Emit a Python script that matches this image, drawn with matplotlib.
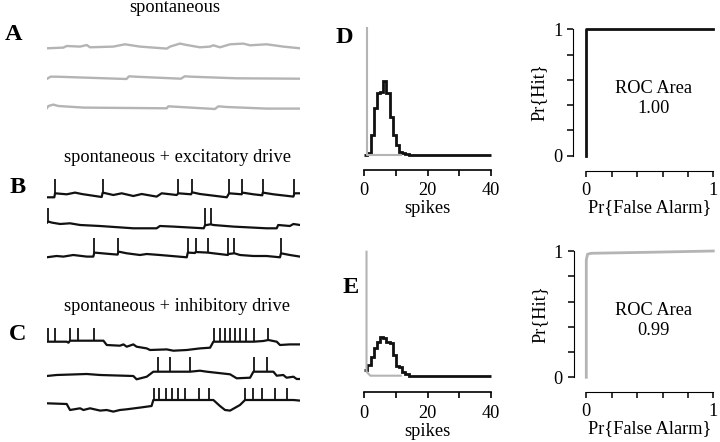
import numpy as np
import matplotlib.pyplot as plt

plt.rcParams['font.family'] = ['Liberation Serif', 'DejaVu Serif']
plt.rcParams['font.size'] = 13.2

W, H = 720, 442
INK = '#111111'
GRAY = '#b4b4b4'

# membrane traces: time (0-100) and voltage (px above resting level)
a1_t = [0, 6.6, 7.9, 13.2, 15.8, 17.1, 26.3, 30.9, 36.8, 47.4, 48.7, 52.6, 55.3, 60.5, 64.5, 65.8, 68.4, 72.4, 77.6, 80.3, 86.8, 93.4, 100]
a1_v = [0, 0.7, 2.3, 1.7, 3.3, 1, 1.7, 4, 1.7, -0.3, 1.7, 4.7, 3.3, 1, 1.7, 3, 1, 4, 4.7, 3, 4, 1.7, 0]
a2_t = [0, 1.5, 4, 31.5, 32.5, 35, 53, 54.5, 57, 75, 100]
a2_v = [0, 2.3, 2.3, 0, 2.7, 2.3, 0.3, 2.7, 2.3, 0.7, 0.3]
a3_t = [0, 0.7, 2.6, 4.6, 14.5, 47.4, 48, 50, 66.4, 67.8, 71, 86.8, 100]
a3_v = [0, 2.3, 3.7, 2.3, 0.7, 0, 2, 1.7, -0.7, 2, 1.3, -0.3, -0.3]

b1_t = [0, 3.0, 3.3, 7.9, 11.2, 13.8, 21.7, 22.1, 26.3, 29.6, 34.2, 37.5, 43.4, 45.4, 51.3, 52.0, 57.0, 57.4, 60.5, 71.1, 72.0, 77.0, 77.2, 81.6, 85.1, 85.3, 89.5, 97.4, 97.8, 100]
b1_v = [0, 0, 4, 3, 4.7, 3.3, 0.3, 4.7, 2.3, 4, 1.3, 3.3, 0.7, 4, 2.3, 4, 3, 5, 3.3, 0, 4, 3, 4.7, 3, 2, 4.7, 3, 0.7, 4, 4]
b1_spk = [3.3, 22.1, 52.0, 57.4, 72.0, 77.2, 85.3, 97.8]
b2_t = [0, 0.7, 2, 5.3, 9.2, 13.2, 21, 34.2, 43.4, 44.7, 50, 62, 62.5, 64.7, 65.8, 73.7, 86.8, 90.8, 91.4, 96, 97.4, 100]
b2_v = [5.3, 6.7, 5.7, 4.3, 5, 3.3, 2.3, 0, 0, 2.3, 1.7, 0, 3, 4, 3.3, 1.7, 0, 0, 3.3, 2.3, 4.3, 3.3]
b2_spk = [0.7, 62.5, 64.7]
b3_t = [0, 3.9, 6.6, 10.5, 15.8, 18.4, 18.8, 25, 28.0, 28.3, 31.6, 36.8, 39.5, 44.7, 55.3, 55.7, 58.5, 58.8, 63.6, 65.8, 71.5, 71.7, 74.1, 76.3, 81.6, 86.8, 92.1, 92.5, 96, 100]
b3_v = [0, 1.3, 0.7, 2.3, 0.7, 0.7, 4.7, 3.3, 2.7, 5.7, 4, 2.3, 3.3, 2.3, 0, 4.7, 4.3, 5.3, 4.7, 4, 2.3, 3.3, 4, 2.3, 1.3, 1.3, 0, 4, 2.3, 0.7]
b3_spk = [18.8, 28.3, 55.7, 58.8, 63.6, 71.7, 74.1, 92.5]

c1_t = [0, 7.9, 8.6, 9.2, 18.4, 22.4, 23.7, 28.9, 30.3, 31.6, 34.2, 35.5, 39.5, 40.8, 47.4, 50, 55.3, 60.5, 64.5, 65.8, 81.6, 85.5, 87.5, 90.8, 92.1, 96, 100]
c1_v = [0, 0, -1, 1, 1, 1, -3.3, -4, -2.7, -5, -2.7, -5, -6.7, -8.3, -7.7, -9, -8.3, -6.7, -6, 0, 0, 0.7, 1.7, 0, -3.3, -2.7, -2.7]
c1_spk = [0.7, 3.3, 9.2, 12.5, 18.8, 66.2, 68.4, 70.4, 72.4, 74.3, 76.3, 78.7, 82.0, 87.2]
c2_t = [0, 3.9, 15.8, 21.1, 34.2, 35.5, 39.5, 42.1, 56.6, 60.5, 63.2, 72.4, 75.0, 80.3, 81.6, 86.8, 89.5, 90.8, 93.4, 94.7, 97.4, 98.7, 100]
c2_v = [0, 1, 2, 1, 0, -3.3, -0.7, 4.3, 4.3, 5.3, 4.3, 1.7, -2.3, -1.7, 4.3, 4.3, 4.3, 0.3, 1, -1.7, -0.7, -3, -3]
c2_spk = [44.1, 48.7, 56.6, 81.8, 86.8]
c3_t = [0, 7.9, 9.2, 13.2, 14.5, 17.1, 21.1, 23.7, 26.3, 28.9, 31.6, 36.8, 41.4, 42.1, 65.8, 68.4, 70.4, 72.4, 76.3, 78.3, 97.4, 100]
c3_v = [0, -0.7, -6.7, -5, -6.7, -5, -7.3, -6.7, -8.3, -6.7, -6, -4.3, -2.7, 3.3, 3.3, -2.7, -6.7, -7.3, -1.7, 3.3, 3.3, 2.7]
c3_spk = [42.4, 44.3, 47.0, 49.6, 52.0, 54.6, 60.1, 64.1, 78.3, 81.6, 84.9, 90.1, 94.7]

# spike count histograms (bins of 1 spike), driven vs spontaneous
edges = [0, 1, 2, 3, 4, 5, 6, 7, 8, 9, 10, 11, 12, 13, 14, 40]
d_counts = [0, 0.013, 0.158, 0.368, 0.487, 0.5, 0.587, 0.487, 0.303, 0.158, 0.079, 0.026, 0.013, 0.008, 0]
e_counts = [0.046, 0.086, 0.153, 0.22, 0.274, 0.315, 0.301, 0.269, 0.263, 0.167, 0.081, 0.073, 0.032, 0.013, 0]
d_spont_x = [0.7, 0.7, 11.5]
d_spont_y = [1.0, 0, 0]
e_spont_x = [0.7, 0.7, 1.9, 11.5]
e_spont_y = [1.0, 0.032, 0, 0]

# ROC curves
d_fa = [0, 0, 1]
d_hit = [0, 1, 1]
e_fa = [0, 0, 0.01, 0.04, 0.5, 1]
e_hit = [0, 0.93, 0.975, 0.982, 0.99, 1.0]


def px_axes(fig, x0, y0, x1, y1):
    return fig.add_axes([x0 / W, 1 - y1 / H, (x1 - x0) / W, (y1 - y0) / H])


def out(px):
    return ('outward', px * 72 / 100)


fig = plt.figure(figsize=(7.2, 4.42), dpi=100)

# traces, y in figure pixels
axt = px_axes(fig, 46.7, 0, 300, H)
axt.set_xlim(0, 100)
axt.set_ylim(H, 0)
axt.axis('off')

gray_traces = [(a1_t, a1_v, 48.3), (a2_t, a2_v, 79), (a3_t, a3_v, 108.3)]
for t, v, base in gray_traces:
    axt.plot(t, base - np.array(v), color=GRAY, lw=1.7)

spk_traces = [
    (b1_t, b1_v, b1_spk, 197.3, 18), (b2_t, b2_v, b2_spk, 228.3, 20), (b3_t, b3_v, b3_spk, 257.3, 19.7),
    (c1_t, c1_v, c1_spk, 341.7, 13.3), (c2_t, c2_v, c2_spk, 376, 18.7), (c3_t, c3_v, c3_spk, 403.3, 15),
]
for t, v, spk, base, top in spk_traces:
    axt.plot(t, base - np.array(v), color=INK, lw=1.6)
    axt.vlines(spk, base - np.interp(spk, t, v) + 0.5, base - top, color=INK, lw=1.3)

fig.text(175 / W, 1 - 8 / H, 'spontaneous', ha='center', va='center')
fig.text(177 / W, 1 - 157 / H, 'spontaneous + excitatory drive', ha='center', va='center')
fig.text(177 / W, 1 - 306.7 / H, 'spontaneous + inhibitory drive', ha='center', va='center')

for lab, x, y in [('A', 14, 35), ('B', 17.5, 187.5), ('C', 18, 335), ('D', 344, 37.5), ('E', 351, 287.5)]:
    fig.text(x / W, 1 - y / H, lab, ha='center', va='center', fontsize=17.5, fontweight='bold')

# histograms
hist_panels = [
    ((28.3, 155), 14.5, d_counts, d_spont_x, d_spont_y),
    ((251.7, 375.7), 16.6, e_counts, e_spont_x, e_spont_y),
]
for (y0, y1), drop, counts, sx, sy in hist_panels:
    ax = px_axes(fig, 364.3, y0, 490.9, y1)
    ax.plot(sx, sy, color=GRAY, lw=1.5, clip_on=False)
    ax.stairs(counts, edges, baseline=None, color=INK, lw=2.0, clip_on=False)
    ax.set_xlim(0, 40)
    ax.set_ylim(0, 1)
    for s in ['left', 'top', 'right']:
        ax.spines[s].set_visible(False)
    ax.spines['bottom'].set_position(out(drop))
    ax.spines['bottom'].set_linewidth(1.2)
    ax.set_yticks([])
    ax.set_xticks([0, 10, 20, 30, 40], ['0', '', '20', '', '40'])
    ax.tick_params(axis='x', length=4.5, width=1.2, pad=4.5)
    ax.set_xlabel('spikes', labelpad=1)
    ax.patch.set_alpha(0)

# ROC panels
roc_panels = [
    ((29.3, 155.7), 13, 15, d_fa, d_hit, INK, '1.00'),
    ((251, 377.3), 12.3, 14.4, e_fa, e_hit, GRAY, '0.99'),
]
for (y0, y1), dl, db, fa, hit, col, area in roc_panels:
    ax = px_axes(fig, 586.3, y0, 713.3, y1)
    ax.plot(fa, hit, color=col, lw=2.0, clip_on=False)
    ax.set_xlim(0, 1)
    ax.set_ylim(0, 1)
    for s in ['top', 'right']:
        ax.spines[s].set_visible(False)
    ax.spines['left'].set_position(out(dl))
    ax.spines['bottom'].set_position(out(db))
    ticks = [0, 0.2, 0.4, 0.6, 0.8, 1]
    labels = ['0', '', '', '', '', '1']
    ax.set_xticks(ticks, labels)
    ax.set_yticks(ticks, labels)
    ax.tick_params(length=4, width=1.1, pad=4)
    ax.set_xlabel('Pr{False Alarm}', labelpad=0)
    ax.set_ylabel('Pr{Hit}', labelpad=4)
    ax.text(0.53, 0.53, 'ROC Area', ha='center', va='center', transform=ax.transAxes)
    ax.text(0.53, 0.37, area, ha='center', va='center', transform=ax.transAxes)
    ax.patch.set_alpha(0)

fig.savefig('out.png', dpi=100, facecolor='white')
